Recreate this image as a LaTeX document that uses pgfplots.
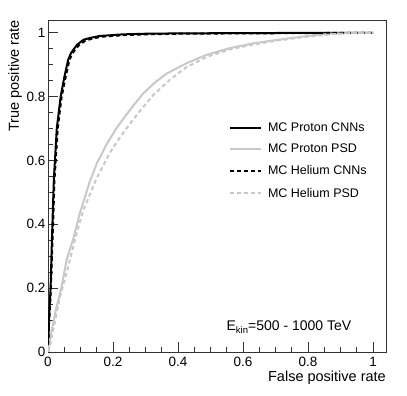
\documentclass[border=0pt]{standalone}
\usepackage{pgfplots}
\pgfplotsset{compat=1.18}
\usepackage{fontspec}
\setmainfont{Liberation Sans}
\definecolor{psdgrey}{RGB}{200,200,200}
\begin{document}
\begin{tikzpicture}[x=1pt,y=1pt]
\useasboundingbox (0,0) rectangle (407,396);
\begin{axis}[
  at={(48pt,44pt)}, anchor=south west,
  scale only axis, width=338pt, height=332pt,
  xmin=0, xmax=1.04, ymin=0, ymax=1.04,
  xtick={0,0.2,0.4,0.6,0.8,1}, ytick={0,0.2,0.4,0.6,0.8,1},
  minor tick num=3,
  tick align=inside, tick pos=left,
  major tick length=10pt, minor tick length=5pt,
  axis line style={line width=0.8pt, black!80},
  every tick/.style={line width=0.8pt, black!80},
  /pgf/number format/assume math mode=true,
  ticklabel style={font=\fontsize{13.5}{15}\selectfont},
  xticklabel style={yshift=-2pt},
  yticklabel style={xshift=1pt},
  legend style={draw=none, fill=none, at={(0.535,0.695)}, anchor=north west,
    font=\fontsize{12.5}{14}\selectfont, row sep=9.5pt, inner sep=0pt,
    nodes={inner sep=1pt}},
  legend cell align=left,
  legend image code/.code={\draw[#1] (0pt,0pt) -- (31pt,0pt); \path (36pt,0pt);},
]
\addplot[black, line width=2pt] coordinates {
(0,0)(0.003,0.1)(0.008,0.2)(0.012,0.35)(0.018,0.54)(0.027,0.70)(0.039,0.80)(0.05,0.86)(0.062,0.915)(0.07,0.935)(0.078,0.947)(0.09,0.963)(0.109,0.978)(0.13,0.984)(0.16,0.99)(0.23,0.995)(0.3,0.997)(0.4,0.998)(0.6,0.999)(0.8,0.9995)(1,1)};
\addlegendentry{MC Proton CNNs}
\addplot[psdgrey, line width=2pt] coordinates {
(0,0)(0.005,0.03)(0.01,0.06)(0.022,0.122)(0.042,0.205)(0.057,0.288)(0.078,0.355)(0.098,0.435)(0.129,0.535)(0.15,0.59)(0.18,0.65)(0.21,0.70)(0.24,0.742)(0.265,0.775)(0.293,0.81)(0.33,0.845)(0.365,0.872)(0.427,0.905)(0.488,0.931)(0.56,0.952)(0.632,0.967)(0.7,0.977)(0.745,0.983)(0.8,0.99)(0.868,0.997)(0.93,0.999)(1,1)};
\addlegendentry{MC Proton PSD}
\addplot[black, line width=2pt, dash pattern=on 4pt off 3pt] coordinates {
(0,0)(0.004,0.1)(0.009,0.2)(0.014,0.35)(0.02,0.54)(0.03,0.70)(0.042,0.80)(0.054,0.86)(0.066,0.915)(0.074,0.933)(0.082,0.945)(0.095,0.961)(0.115,0.975)(0.14,0.983)(0.17,0.988)(0.24,0.993)(0.3,0.995)(0.4,0.997)(0.6,0.998)(0.8,0.999)(1,1)};
\addlegendentry{MC Helium CNNs}
\addplot[psdgrey, line width=2pt, dash pattern=on 4pt off 3pt] coordinates {
(0,0)(0.008,0.03)(0.016,0.069)(0.037,0.173)(0.057,0.247)(0.088,0.372)(0.109,0.445)(0.15,0.545)(0.191,0.625)(0.222,0.673)(0.25,0.712)(0.283,0.755)(0.324,0.805)(0.375,0.853)(0.427,0.893)(0.49,0.925)(0.56,0.948)(0.632,0.963)(0.7,0.975)(0.8,0.988)(0.87,0.995)(0.93,0.999)(1,1)};
\addlegendentry{MC Helium PSD}
\node[anchor=base west, inner sep=0pt, font=\fontsize{14}{16}\selectfont] at (axis cs:0.549,0.066) {E\raisebox{-0.35ex}{\fontsize{9.5}{10}\selectfont kin}=500 - 1000 TeV};
\end{axis}
\node[anchor=north east, inner sep=0pt, font=\fontsize{14.5}{16}\selectfont] at (386,25) {False positive rate};
\node[rotate=90, anchor=south east, inner sep=0pt, font=\fontsize{14.5}{16}\selectfont] at (22,376) {True positive rate};
\end{tikzpicture}
\end{document}
